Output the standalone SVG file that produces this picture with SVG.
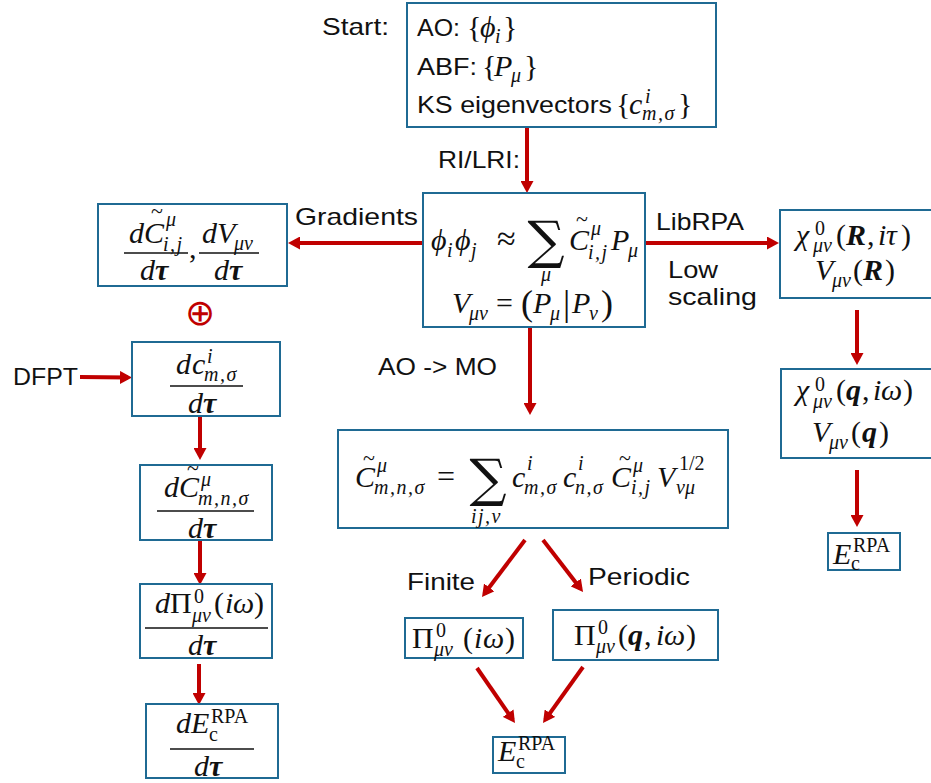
<svg xmlns="http://www.w3.org/2000/svg" width="931" height="783" viewBox="0 0 931 783">
  <style>
    .box { fill: #ffffff; stroke: #1f6a93; stroke-width: 2; }
    .arr { stroke: #c00000; stroke-width: 4; fill: none; marker-end: url(#ah); }
    .lbl { font-family: "Liberation Sans", Arial, sans-serif; font-size: 24px; fill: #111111; }
    .m { font-family: "Liberation Serif", "Times New Roman", serif; font-style: italic; font-size: 30px; fill: #111111; }
    .up { font-style: normal; }
    .bi { font-weight: bold; }
    .s { font-size: 20px; }
    .ls { letter-spacing: 1.5px; }
    .tl { font-family: "Liberation Serif", serif; font-size: 22px; fill: #111111; text-anchor: middle; }
    .sum { font-family: "DejaVu Serif", "Liberation Serif", serif; font-size: 52px; fill: #111111; text-anchor: middle; }
    .bar { stroke: #111111; stroke-width: 1.6; }
  </style>
  <defs>
    <marker id="ah" viewBox="0 0 12 13" refX="8" refY="6.5" markerWidth="12" markerHeight="13" markerUnits="userSpaceOnUse" orient="auto">
      <path d="M0,0 L12,6.5 L0,13 Z" fill="#c00000"/>
    </marker>
  </defs>
  <rect width="931" height="783" fill="#ffffff"/>

  <!-- connectors -->
  <g id="connectors">
    <line class="arr" x1="527" y1="127" x2="527" y2="189"/>
    <line class="arr" x1="422" y1="243" x2="292" y2="243"/>
    <line class="arr" x1="645" y1="243" x2="775" y2="243"/>
    <line class="arr" x1="857" y1="310" x2="857" y2="361"/>
    <line class="arr" x1="857" y1="470" x2="857" y2="523"/>
    <line class="arr" x1="530" y1="327" x2="530" y2="411"/>
    <line class="arr" x1="525" y1="540" x2="484.4" y2="593.8"/>
    <line class="arr" x1="543" y1="540" x2="580.6" y2="588.8"/>
    <line class="arr" x1="477" y1="668" x2="512.7" y2="719.7"/>
    <line class="arr" x1="583" y1="667" x2="545.3" y2="719.7"/>
    <line class="arr" x1="80" y1="377" x2="128" y2="377.5"/>
    <line class="arr" x1="200" y1="416" x2="200" y2="456"/>
    <line class="arr" x1="200" y1="540" x2="200" y2="581"/>
    <line class="arr" x1="199" y1="664" x2="199" y2="701"/>
  </g>

  <!-- connector labels -->
  <g id="labels">
    <text class="lbl" x="322" y="35" textLength="67" lengthAdjust="spacingAndGlyphs">Start:</text>
    <text class="lbl" x="438" y="168" textLength="82" lengthAdjust="spacingAndGlyphs">RI/LRI:</text>
    <text class="lbl" x="295" y="225" textLength="123" lengthAdjust="spacingAndGlyphs">Gradients</text>
    <text class="lbl" x="656" y="230" textLength="88" lengthAdjust="spacingAndGlyphs">LibRPA</text>
    <text class="lbl" x="668" y="278" textLength="50" lengthAdjust="spacingAndGlyphs">Low</text>
    <text class="lbl" x="668" y="305" textLength="89" lengthAdjust="spacingAndGlyphs">scaling</text>
    <text class="lbl" x="13" y="385" textLength="65" lengthAdjust="spacingAndGlyphs">DFPT</text>
    <text class="lbl" x="378" y="375" textLength="119" lengthAdjust="spacingAndGlyphs">AO -&gt; MO</text>
    <text class="lbl" x="407" y="590" textLength="68" lengthAdjust="spacingAndGlyphs">Finite</text>
    <text class="lbl" x="588" y="585" textLength="102" lengthAdjust="spacingAndGlyphs">Periodic</text>
  </g>

  <!-- start: basis sets and KS eigenvectors -->
  <g id="n-start">
    <rect class="box" x="407" y="3" width="309" height="124"/>
    <text class="lbl" x="417" y="36" textLength="43" lengthAdjust="spacingAndGlyphs">AO:</text>
    <text class="lbl" x="417" y="75" textLength="60" lengthAdjust="spacingAndGlyphs">ABF:</text>
    <text class="lbl" x="417" y="113" textLength="195" lengthAdjust="spacingAndGlyphs">KS eigenvectors</text>
    <text class="m" font-size="28">
      <tspan class="up" x="467" y="37">{</tspan><tspan x="480" y="37">ϕ</tspan><tspan class="s" x="495" y="43">i</tspan><tspan class="up" x="503" y="37">}</tspan>
      <tspan class="up" x="482" y="76">{</tspan><tspan x="494" y="76">P</tspan><tspan class="s" x="511" y="82">μ</tspan><tspan class="up" x="524" y="76">}</tspan>
      <tspan class="up" x="616" y="114">{</tspan><tspan x="629" y="114">c</tspan><tspan class="s" x="645" y="103">i</tspan><tspan class="s ls" x="642" y="120">m,σ</tspan><tspan class="up" x="678" y="114">}</tspan>
    </text>
  </g>

  <!-- RI expansion -->
  <g id="n-ri">
    <rect class="box" x="423" y="193" width="222" height="134"/>
    <text class="m">
      <tspan x="431" y="250">ϕ</tspan><tspan class="s" x="447" y="257">i</tspan><tspan x="455" y="250">ϕ</tspan><tspan class="s" x="471" y="257">j</tspan>
      <tspan class="up" x="497" y="250" font-size="34">≈</tspan>
      <tspan class="s" x="541" y="281">μ</tspan>
      <tspan x="569" y="250">C</tspan><tspan class="s" x="591" y="235">μ</tspan><tspan class="s ls" x="588" y="259">i,j</tspan>
      <tspan x="611" y="250">P</tspan><tspan class="s" x="628" y="257">μ</tspan>
    </text>
    <text class="tl" x="582" y="226">~</text>
    <text class="sum" x="546" y="258">∑</text>
    <text class="m">
      <tspan x="452" y="313">V</tspan><tspan class="s" x="469" y="320">μν</tspan>
      <tspan class="up" x="496" y="313">=</tspan>
      <tspan class="up" x="521" y="315" font-size="36">(</tspan><tspan x="533" y="313">P</tspan><tspan class="s" x="550" y="320">μ</tspan>
      <tspan class="up" x="563" y="315" font-size="36">|</tspan><tspan x="572" y="313">P</tspan><tspan class="s" x="589" y="320">ν</tspan>
      <tspan class="up" x="601" y="315" font-size="36">)</tspan>
    </text>
  </g>

  <!-- gradients of coefficients and Coulomb matrix -->
  <g id="n-grad">
    <rect class="box" x="98" y="204" width="189" height="82"/>
    <text class="m">
      <tspan x="129" y="243">d</tspan><tspan x="144" y="243">C</tspan><tspan class="s" x="166" y="226">μ</tspan><tspan class="s ls" x="163" y="251">i,j</tspan>
      <tspan x="140" y="280">d</tspan><tspan class="bi" x="155" y="280">τ</tspan>
      <tspan class="up" x="189" y="258">,</tspan>
      <tspan x="202" y="243">d</tspan><tspan x="217" y="243">V</tspan><tspan class="s" x="234" y="250">μν</tspan>
      <tspan x="214" y="280">d</tspan><tspan class="bi" x="229" y="280">τ</tspan>
    </text>
    <text class="tl" x="157" y="218">~</text>
    <line class="bar" x1="124" y1="253" x2="188" y2="253"/>
    <line class="bar" x1="199" y1="253" x2="259" y2="253"/>
  </g>

  <g id="oplus">
    <text x="200" y="325" font-family="DejaVu Sans, sans-serif" font-size="36" fill="#c00000" text-anchor="middle">⊕</text>
  </g>

  <!-- DFPT eigenvector derivative -->
  <g id="n-dc">
    <rect class="box" x="132" y="342" width="148" height="74"/>
    <text class="m">
      <tspan x="176" y="374">d</tspan><tspan x="192" y="374">c</tspan><tspan class="s" x="207" y="363">i</tspan><tspan class="s ls" x="204" y="381">m,σ</tspan>
      <tspan x="188" y="413">d</tspan><tspan class="bi" x="203" y="413">τ</tspan>
    </text>
    <line class="bar" x1="170" y1="386" x2="243" y2="386"/>
  </g>

  <g id="n-dct">
    <rect class="box" x="140" y="465" width="132" height="75"/>
    <text class="m">
      <tspan x="164" y="497">d</tspan><tspan x="179" y="497">C</tspan><tspan class="s" x="201" y="486">μ</tspan><tspan class="s ls" x="198" y="505">m,n,σ</tspan>
      <tspan x="188" y="538">d</tspan><tspan class="bi" x="203" y="538">τ</tspan>
    </text>
    <text class="tl" x="193" y="475">~</text>
    <line class="bar" x1="157" y1="511" x2="254" y2="511"/>
  </g>

  <g id="n-dpi">
    <rect class="box" x="140" y="584" width="132" height="74"/>
    <text class="m">
      <tspan x="155" y="613">d</tspan><tspan class="up" x="170" y="613">Π</tspan><tspan class="s up" x="194" y="603">0</tspan><tspan class="s" x="192" y="622">μν</tspan>
      <tspan class="up" x="214" y="613">(</tspan><tspan x="225" y="613">i</tspan><tspan x="233" y="613">ω</tspan><tspan class="up" x="254" y="613">)</tspan>
      <tspan x="188" y="655">d</tspan><tspan class="bi" x="203" y="655">τ</tspan>
    </text>
    <line class="bar" x1="145" y1="628" x2="268" y2="628"/>
  </g>

  <g id="n-de">
    <rect class="box" x="146" y="704" width="132" height="74"/>
    <text class="m">
      <tspan x="176" y="733">d</tspan><tspan x="191" y="733">E</tspan><tspan class="s up" x="211" y="723">RPA</tspan><tspan class="s up" x="209" y="741">c</tspan>
      <tspan x="194" y="776">d</tspan><tspan class="bi" x="209" y="776">τ</tspan>
    </text>
    <line class="bar" x1="170" y1="749" x2="254" y2="749"/>
  </g>

  <!-- AO to MO transformation -->
  <g id="n-mo">
    <rect class="box" x="338" y="430" width="390" height="98"/>
    <text class="m">
      <tspan x="355" y="487">C</tspan><tspan class="s" x="377" y="472">μ</tspan><tspan class="s ls" x="374" y="494">m,n,σ</tspan>
      <tspan class="up" x="437" y="487" font-size="32">=</tspan>
      <tspan class="s ls" x="471" y="523">ij,ν</tspan>
      <tspan x="512" y="487">c</tspan><tspan class="s" x="527" y="470">i</tspan><tspan class="s ls" x="524" y="494">m,σ</tspan>
      <tspan x="563" y="487">c</tspan><tspan class="s" x="578" y="470">i</tspan><tspan class="s ls" x="575" y="494">n,σ</tspan>
      <tspan x="611" y="487">C</tspan><tspan class="s" x="633" y="472">μ</tspan><tspan class="s ls" x="631" y="494">i,j</tspan>
      <tspan x="657" y="487">V</tspan><tspan class="s up" x="679" y="470">1/2</tspan><tspan class="s" x="676" y="494">νμ</tspan>
    </text>
    <text class="tl" x="369" y="465">~</text>
    <text class="tl" x="625" y="465">~</text>
    <text class="sum" x="488" y="496">∑</text>
  </g>

  <g id="n-pif">
    <rect class="box" x="405" y="618" width="118" height="40"/>
    <text class="m">
      <tspan class="up" x="412" y="648">Π</tspan><tspan class="s up" x="436" y="637">0</tspan><tspan class="s" x="434" y="656">μν</tspan>
      <tspan class="up" x="463" y="648">(</tspan><tspan x="474" y="648">i</tspan><tspan x="483" y="648">ω</tspan><tspan class="up" x="505" y="648">)</tspan>
    </text>
  </g>

  <g id="n-pip">
    <rect class="box" x="553" y="610" width="165" height="50"/>
    <text class="m">
      <tspan class="up" x="574" y="645">Π</tspan><tspan class="s up" x="598" y="634">0</tspan><tspan class="s" x="596" y="653">μν</tspan>
      <tspan class="up" x="618" y="645">(</tspan><tspan class="bi" x="628" y="645">q</tspan><tspan class="up" x="644" y="645">,</tspan>
      <tspan x="656" y="645">i</tspan><tspan x="664" y="645">ω</tspan><tspan class="up" x="686" y="645">)</tspan>
    </text>
  </g>

  <g id="n-ec">
    <rect class="box" x="493" y="737" width="72" height="36"/>
    <text class="m">
      <tspan x="498" y="761">E</tspan><tspan class="s up" x="518" y="750">RPA</tspan><tspan class="s up" x="516" y="768">c</tspan>
    </text>
  </g>

  <!-- low-scaling real-space branch -->
  <g id="n-chir">
    <rect class="box" x="780" y="210" width="160" height="88"/>
    <text class="m">
      <tspan x="796" y="245">χ</tspan><tspan class="s up" x="815" y="235">0</tspan><tspan class="s" x="813" y="252">μν</tspan>
      <tspan class="up" x="836" y="245">(</tspan><tspan class="bi" x="846" y="245">R</tspan><tspan class="up" x="867" y="245">,</tspan>
      <tspan x="878" y="245">i</tspan><tspan x="886" y="245">τ</tspan><tspan class="up" x="901" y="245">)</tspan>
      <tspan x="815" y="280">V</tspan><tspan class="s" x="832" y="287">μν</tspan>
      <tspan class="up" x="853" y="280">(</tspan><tspan class="bi" x="863" y="280">R</tspan><tspan class="up" x="885" y="280">)</tspan>
    </text>
  </g>

  <g id="n-chiq">
    <rect class="box" x="781" y="369" width="160" height="89"/>
    <text class="m">
      <tspan x="796" y="400">χ</tspan><tspan class="s up" x="815" y="391">0</tspan><tspan class="s" x="813" y="408">μν</tspan>
      <tspan class="up" x="836" y="400">(</tspan><tspan class="bi" x="846" y="400">q</tspan><tspan class="up" x="862" y="400">,</tspan>
      <tspan x="873" y="400">i</tspan><tspan x="881" y="400">ω</tspan><tspan class="up" x="903" y="400">)</tspan>
      <tspan x="812" y="442">V</tspan><tspan class="s" x="829" y="449">μν</tspan>
      <tspan class="up" x="851" y="442">(</tspan><tspan class="bi" x="862" y="442">q</tspan><tspan class="up" x="879" y="442">)</tspan>
    </text>
  </g>

  <g id="n-ecr">
    <rect class="box" x="828" y="533" width="72" height="37"/>
    <text class="m">
      <tspan x="833" y="564">E</tspan><tspan class="s up" x="853" y="552">RPA</tspan><tspan class="s up" x="851" y="570">c</tspan>
    </text>
  </g>
</svg>
